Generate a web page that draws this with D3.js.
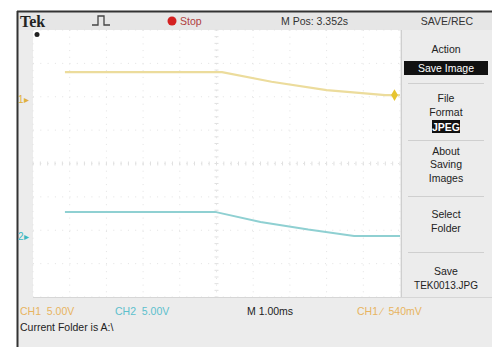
<!DOCTYPE html>
<html><head><meta charset="utf-8">
<script src="https://cdn.jsdelivr.net/npm/d3@7"></script>
<style>body{margin:0;background:#fff;}svg{display:block;font-family:"Liberation Sans",Arial,sans-serif;}</style>
</head><body>
<script>
// time in divisions (0..10), level in divisions (-4..4)
const ch1Time = [0.87, 5.15, 6.5, 8.0, 9.6, 10.0];
const ch1Level = [2.74, 2.74, 2.45, 2.2, 2.05, 2.05];
const ch2Time = [0.87, 4.96, 6.2, 7.5, 8.75, 10.0];
const ch2Level = [-1.45, -1.45, -1.75, -1.98, -2.17, -2.17];
const menuItems = [["Action","Save Image"],["File","Format","JPEG"],["About","Saving","Images"],["Select","Folder"],["Save","TEK0013.JPG"]];
const statusLabels = ["CH1\u00a0\u00a05.00V","CH2\u00a0\u00a05.00V","M 1.00ms","CH1\u00a0\u2215\u00a0\u00a0540mV"];

const W=492,H=347;
const svg=d3.select("body").append("svg").attr("width",W).attr("height",H);
const plot={x0:33,x1:400,y0:30,y1:297};
const x=d3.scaleLinear().domain([0,10]).range([plot.x0,plot.x1]);
const y=d3.scaleLinear().domain([-4,4]).range([plot.y1,plot.y0]);

// frame backgrounds
svg.append("rect").attr("x",17).attr("y",11).attr("width",W-17).attr("height",H-11).attr("fill","#ececec");
svg.append("rect").attr("x",18).attr("y",12).attr("width",W-18).attr("height",18).attr("fill","#e6e6e6");
svg.append("rect").attr("x",plot.x0).attr("y",plot.y0).attr("width",plot.x1-plot.x0).attr("height",plot.y1-plot.y0).attr("fill","#ffffff");
svg.append("line").attr("x1",17).attr("x2",W).attr("y1",11.5).attr("y2",11.5).attr("stroke","#333").attr("stroke-width",2);
svg.append("line").attr("x1",17.5).attr("x2",17.5).attr("y1",11).attr("y2",H).attr("stroke","#333").attr("stroke-width",2);

// graticule
const g=svg.append("g");
d3.range(0,11).forEach(i=>{
  g.append("line").attr("x1",x(i)).attr("x2",x(i)).attr("y1",plot.y0).attr("y2",plot.y1)
   .attr("stroke","#e2e2e2").attr("stroke-width",1).attr("stroke-dasharray","1,5.7");
});
d3.range(-4,5).forEach(i=>{
  g.append("line").attr("x1",plot.x0).attr("x2",plot.x1).attr("y1",y(i)).attr("y2",y(i))
   .attr("stroke","#e2e2e2").attr("stroke-width",1).attr("stroke-dasharray","1,6.3");
});
// center ticks
d3.range(0,50.01,1).forEach(i=>{
  const xx=x(i/5);
  g.append("line").attr("x1",xx).attr("x2",xx).attr("y1",y(0)-2).attr("y2",y(0)+2).attr("stroke","#e0e0e0");
});
d3.range(0,40.01,1).forEach(i=>{
  const yy=y(-4+i/5);
  g.append("line").attr("x1",x(5)-2).attr("x2",x(5)+2).attr("y1",yy).attr("y2",yy).attr("stroke","#e0e0e0");
});

// traces
const line=d3.line().x(d=>x(d[0])).y(d=>y(d[1]));
svg.append("path").attr("d",line(d3.zip(ch1Time,ch1Level))).attr("fill","none").attr("stroke","#ecdc9c").attr("stroke-width",2.2);
svg.append("path").attr("d",line(d3.zip(ch2Time,ch2Level))).attr("fill","none").attr("stroke","#8fd0d2").attr("stroke-width",2);

// markers
svg.append("text").attr("x",18).attr("y",y(1.93)+4).attr("font-size",10).attr("fill","#e0b040").text("1\u25b8");
svg.append("text").attr("x",18).attr("y",y(-2.17)+4).attr("font-size",10).attr("fill","#3cb8c0").text("2\u25b8");
svg.append("path").attr("d",d3.symbol(d3.symbolDiamond,40)()).attr("transform",`translate(${x(9.85)},${y(2.05)})`).attr("fill","#e6c430");
svg.append("circle").attr("cx",37).attr("cy",34.5).attr("r",2.5).attr("fill","#222");

// header
svg.append("text").attr("x",20).attr("y",27).attr("font-family","Liberation Serif").attr("font-weight","bold").attr("font-size",16).attr("fill","#222").text("Tek");
svg.append("path").attr("d","M92,25 H98 V16 H104 V25 H110").attr("fill","none").attr("stroke","#444").attr("stroke-width",1.3);
svg.append("circle").attr("cx",172).attr("cy",21).attr("r",4.5).attr("fill","#d42020");
svg.append("text").attr("x",180).attr("y",25).attr("font-size",10.5).attr("fill","#b04040").text("Stop");
svg.append("text").attr("x",281).attr("y",25).attr("font-size",10.5).attr("fill","#333").text("M Pos: 3.352s");
svg.append("text").attr("x",447).attr("y",25).attr("font-size",10.5).attr("fill","#333").attr("text-anchor","middle").text("SAVE/REC");

// right menu
svg.append("line").attr("x1",401.5).attr("x2",401.5).attr("y1",30).attr("y2",297).attr("stroke","#cfcfcf");
svg.append("rect").attr("x",404).attr("y",61).attr("width",84).attr("height",14).attr("fill","#111");
svg.append("rect").attr("x",432).attr("y",120).attr("width",28).attr("height",13).attr("fill","#111");
[83,140,196,252].forEach(yy=>svg.append("line").attr("x1",408).attr("x2",484).attr("y1",yy+0.5).attr("y2",yy+0.5).attr("stroke","#cfcfcf"));
const cx=446;
const mt=svg.append("g").attr("font-size",10.5).attr("fill","#222").attr("text-anchor","middle");
mt.append("text").attr("x",cx).attr("y",53).text(menuItems[0][0]);
mt.append("text").attr("x",cx).attr("y",72).attr("fill","#fff").text(menuItems[0][1]);
mt.append("text").attr("x",cx).attr("y",102).text(menuItems[1][0]);
mt.append("text").attr("x",cx).attr("y",116).text(menuItems[1][1]);
mt.append("text").attr("x",cx).attr("y",131).attr("fill","#fff").attr("font-weight","bold").text(menuItems[1][2]);
mt.append("text").attr("x",cx).attr("y",155).text(menuItems[2][0]);
mt.append("text").attr("x",cx).attr("y",168).text(menuItems[2][1]);
mt.append("text").attr("x",cx).attr("y",182).text(menuItems[2][2]);
mt.append("text").attr("x",cx).attr("y",218).text(menuItems[3][0]);
mt.append("text").attr("x",cx).attr("y",232).text(menuItems[3][1]);
mt.append("text").attr("x",cx).attr("y",275).text(menuItems[4][0]);
mt.append("text").attr("x",cx).attr("y",289).attr("font-size",10).text(menuItems[4][1]);

// status
svg.append("line").attr("x1",33).attr("x2",492).attr("y1",297.5).attr("y2",297.5).attr("stroke","#d6d6d6");
const st=svg.append("g").attr("font-size",10.5);
st.append("text").attr("x",20).attr("y",315).attr("fill","#e8b460").text(statusLabels[0]);
st.append("text").attr("x",115).attr("y",315).attr("fill","#5cc0cc").text(statusLabels[1]);
st.append("text").attr("x",247).attr("y",315).attr("fill","#222").text(statusLabels[2]);
st.append("text").attr("x",357).attr("y",315).attr("fill","#e8b460").text(statusLabels[3]);
st.append("text").attr("x",20).attr("y",331).attr("fill","#222").text("Current Folder is A:\\");
</script>
</body></html>
